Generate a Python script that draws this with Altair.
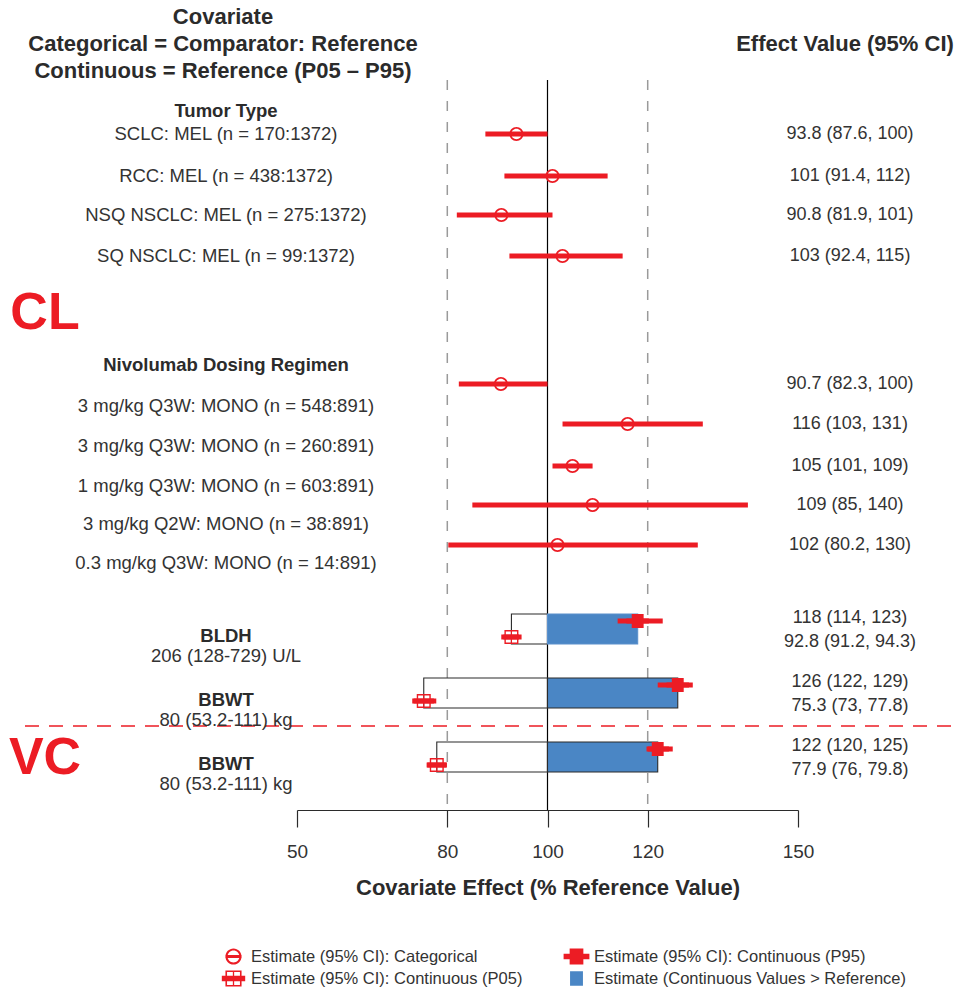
import altair as alt
import pandas as pd

# ---------------- values ----------------
tumor_labels = [
    "SCLC: MEL (n = 170:1372)",
    "RCC: MEL (n = 438:1372)",
    "NSQ NSCLC: MEL (n = 275:1372)",
    "SQ NSCLC: MEL (n = 99:1372)",
]
tumor_est = [93.8, 101, 90.8, 103]
tumor_lo = [87.6, 91.4, 81.9, 92.4]
tumor_hi = [100, 112, 101, 115]

dose_labels = [
    "3 mg/kg Q3W: MONO (n = 548:891)",
    "3 mg/kg Q3W: MONO (n = 260:891)",
    "1 mg/kg Q3W: MONO (n = 603:891)",
    "3 mg/kg Q2W: MONO (n = 38:891)",
    "0.3 mg/kg Q3W: MONO (n = 14:891)",
]
dose_est = [90.7, 116, 105, 109, 102]
dose_lo = [82.3, 103, 101, 85, 80.2]
dose_hi = [100, 131, 109, 140, 130]

cont_names = ["BLDH", "BBWT", "BBWT"]
cont_ref = ["206 (128-729) U/L", "80 (53.2-111) kg", "80 (53.2-111) kg"]
p95_est = [118, 126, 122]
p95_lo = [114, 122, 120]
p95_hi = [123, 129, 125]
p05_est = [92.8, 75.3, 77.9]
p05_lo = [91.2, 73, 76]
p05_hi = [94.3, 77.8, 79.8]

REF = 100
guide_values = [80, 120]
tick_values = [50, 80, 100, 120, 150]

header_lines = [
    "Covariate",
    "Categorical = Comparator: Reference",
    "Continuous = Reference (P05 \u2013 P95)",
]
group_titles = ["Tumor Type", "Nivolumab Dosing Regimen"]
param_names = ["CL", "VC"]

K_CAT = "Estimate (95% CI): Categorical"
K_P95 = "Estimate (95% CI): Continuous (P95)"
K_P05 = "Estimate (95% CI): Continuous (P05)"
K_BAR = "Estimate (Continuous Values > Reference)"
kinds = [K_CAT, K_P95, K_P05, K_BAR]

# ---------------- layout (page pixels) ----------------
X0 = 297            # page x of the left end of the axis
PLOT_W = 501
PLOT_H = 810
LABEL_X = 226 - X0
VALUE_X = 850 - X0

header_y = [17, 44, 71]
group_y = [111, 365]
param_y = [313, 758]
tumor_y = [134, 176, 215, 256]
dose_y = [384, 424, 466, 505, 545]
dose_label_y = [406, 446, 486, 524, 563]
cont_top = [614, 678, 742]
BOX_H = 30
bar_edge = ["#5b90cc", "#2b2b2b", "#2b2b2b"]
SPLIT_Y = 726

RED = "#ec1c24"
BLUE = "#4a86c5"
INK = "#2b2b2b"
GREY_TXT = "#333333"
FONT = "Liberation Sans"

# marker glyphs, unit box [-1, 1]
CIRCLE_BAR = (
    "M1,0A1,1 0 1,1 -1,0A1,1 0 1,1 1,0Z"
    "M0.74,0A0.74,0.74 0 1,0 -0.74,0A0.74,0.74 0 1,0 0.74,0Z"
    "M-1,-0.2H1V0.2H-1Z"
)
FILLED_BAR = "M-0.85,-1H0.85V-0.35H1.6V0.35H0.85V1H-0.85V0.35H-1.6V-0.35H-0.85Z"
BOXED_CROSS = (
    "M-1,-1H1V1H-1Z"
    "M-0.8,-0.8V0.8H0.8V-0.8Z"
    "M-0.08,-0.8H0.08V0.8H-0.08Z"
    "M-1.45,-0.35H1.45V0.35H-1.45Z"
)
SOLID_BLOCK = "M-0.8,-0.9H0.8V0.9H-0.8Z"


def fmt(v):
    return "{:g}".format(v)


def ci_text(e, lo, hi):
    return f"{fmt(e)} ({fmt(lo)}, {fmt(hi)})"


# ---------------- tables ----------------
cat = pd.DataFrame({
    "label": tumor_labels + dose_labels,
    "est": tumor_est + dose_est,
    "lo": tumor_lo + dose_lo,
    "hi": tumor_hi + dose_hi,
    "y": tumor_y + dose_y,
    "label_y": tumor_y + dose_label_y,
})
cat["kind"] = K_CAT
cat["txt"] = [ci_text(e, l, h) for e, l, h in zip(cat.est, cat.lo, cat.hi)]

cont = pd.DataFrame({
    "name": cont_names,
    "ref_txt": cont_ref,
    "p95": p95_est,
    "p05": p05_est,
    "top": cont_top,
    "edge": bar_edge,
})
cont["bottom"] = cont["top"] + BOX_H
cont["ref"] = REF

p95_pts = pd.DataFrame({
    "est": p95_est, "lo": p95_lo, "hi": p95_hi,
    "y": [t + 7 for t in cont_top], "kind": K_P95,
    "txt": [ci_text(*v) for v in zip(p95_est, p95_lo, p95_hi)],
    "txt_y": [t + 4 for t in cont_top],
})
p05_pts = pd.DataFrame({
    "est": p05_est, "lo": p05_lo, "hi": p05_hi,
    "y": [t + 23 for t in cont_top], "kind": K_P05,
    "txt": [ci_text(*v) for v in zip(p05_est, p05_lo, p05_hi)],
    "txt_y": [t + 28 for t in cont_top],
})

markers = pd.concat(
    [cat[["est", "lo", "hi", "y", "kind"]],
     p95_pts[["est", "lo", "hi", "y", "kind"]],
     p05_pts[["est", "lo", "hi", "y", "kind"]]],
    ignore_index=True,
)
cont_txt = pd.concat(
    [p95_pts[["txt", "txt_y"]], p05_pts[["txt", "txt_y"]]], ignore_index=True
).rename(columns={"txt_y": "y"})

xscale = alt.Scale(domain=[50, 150], nice=False, zero=False)
x_axis = alt.Axis(
    values=tick_values, grid=False, tickSize=17, tickColor=INK, tickWidth=1.2,
    domainColor=INK, domainWidth=1.2, labelFontSize=19, labelColor=GREY_TXT,
    labelFont=FONT, labelPadding=15, labelFlush=False,
    title="Covariate Effect (% Reference Value)",
    titleFont=FONT, titleFontSize=22, titleFontWeight="bold", titleColor=INK,
    titlePadding=16,
)
Y = lambda f="y": alt.Y(f"{f}:Q", scale=None, axis=None)

# ---------------- layers ----------------
ref_line = alt.Chart(pd.DataFrame({"v": [REF]})).mark_rule(
    color="black", strokeWidth=1.2
).encode(
    x=alt.X("v:Q", scale=xscale, axis=x_axis), y=alt.value(80), y2=alt.value(PLOT_H)
)

guides = alt.Chart(pd.DataFrame({"v": guide_values})).mark_rule(
    color="#9a9a9a", strokeWidth=1.5, strokeDash=[10, 11]
).encode(x=alt.X("v:Q", scale=xscale), y=alt.value(80), y2=alt.value(PLOT_H))

split = alt.Chart(pd.DataFrame({"v": [0]})).mark_rule(
    color=RED, strokeWidth=1.5, strokeDash=[14, 10]
).encode(x=alt.value(25 - X0), x2=alt.value(958 - X0), y=alt.value(SPLIT_Y))

outline = alt.Chart(cont).mark_rect(
    filled=False, stroke=INK, strokeWidth=1.1
).encode(x=alt.X("p05:Q", scale=xscale), x2="ref:Q", y=Y("top"), y2="bottom:Q")

bars = alt.Chart(cont).mark_rect(color=BLUE, strokeWidth=1.1).encode(
    x=alt.X("ref:Q", scale=xscale), x2="p95:Q", y=Y("top"), y2="bottom:Q",
    stroke=alt.Stroke("edge:N", scale=None),
)

ci = alt.Chart(markers).mark_rule(color=RED, strokeWidth=5, strokeCap="butt").encode(
    x=alt.X("lo:Q", scale=xscale), x2="hi:Q", y=Y()
)

legend = alt.Legend(
    title=None, orient="none", legendX=-72, legendY=948, columns=2,
    direction="horizontal", symbolSize=260, symbolStrokeWidth=0,
    labelFont=FONT, labelFontSize=16.5, labelColor=GREY_TXT, labelOffset=9,
    rowPadding=5, columnPadding=40, padding=0, labelLimit=450,
)
points = alt.Chart(markers).mark_point(
    filled=True, opacity=1, size=196, strokeWidth=0
).encode(
    x=alt.X("est:Q", scale=xscale),
    y=Y(),
    color=alt.Color("kind:N", scale=alt.Scale(domain=kinds, range=[RED, RED, RED, BLUE]),
                    legend=legend),
    shape=alt.Shape("kind:N", scale=alt.Scale(
        domain=kinds, range=[CIRCLE_BAR, FILLED_BAR, BOXED_CROSS, SOLID_BLOCK]),
        legend=legend),
)


def text_layer(df, x, field="label", y="y", **style):
    base = dict(font=FONT, fontSize=18, color=GREY_TXT, baseline="middle", align="center")
    base.update(style)
    return alt.Chart(df).mark_text(**base).encode(
        x=alt.value(x), y=Y(y), text=f"{field}:N"
    )


headers = text_layer(pd.DataFrame({"label": header_lines, "y": header_y}),
                     223 - X0, fontSize=22, fontWeight="bold", color=INK)
value_head = text_layer(pd.DataFrame({"label": ["Effect Value (95% CI)"], "y": [44]}),
                        845 - X0, fontSize=22, fontWeight="bold", color=INK)
groups = text_layer(pd.DataFrame({"label": group_titles, "y": group_y}),
                    LABEL_X, fontSize=18.5, fontWeight="bold", color=INK)
params = text_layer(pd.DataFrame({"label": param_names, "y": param_y}),
                    45 - X0, fontSize=52, fontWeight="bold", color=RED)
row_labels = text_layer(cat, LABEL_X, y="label_y", fontSize=18.5)
row_values = text_layer(cat, VALUE_X, field="txt")

cont_lab = cont.assign(y1=cont["top"] + 22, y2=cont["top"] + 42)
cont_names_t = text_layer(cont_lab, LABEL_X, field="name", y="y1",
                          fontWeight="bold", fontSize=18.5, color=INK)
cont_refs_t = text_layer(cont_lab, LABEL_X, field="ref_txt", y="y2", fontSize=18.5)
cont_values = text_layer(cont_txt, VALUE_X, field="txt")

chart = alt.layer(
    ref_line, guides, split, outline, bars, ci, points,
    headers, value_head, groups, params, row_labels, row_values,
    cont_names_t, cont_refs_t, cont_values,
).properties(
    width=PLOT_W, height=PLOT_H,
    padding={"left": X0, "top": 0, "right": 958 - X0 - PLOT_W, "bottom": 987 - PLOT_H},
    autosize=alt.AutoSizeParams(type="none"),
    background="white",
).configure(
    font=FONT,
    view=alt.ViewConfig(stroke="transparent"),
    axis=alt.AxisConfig(grid=False),
)

chart.save("out.html", embed_options={"renderer": "svg", "actions": False})
